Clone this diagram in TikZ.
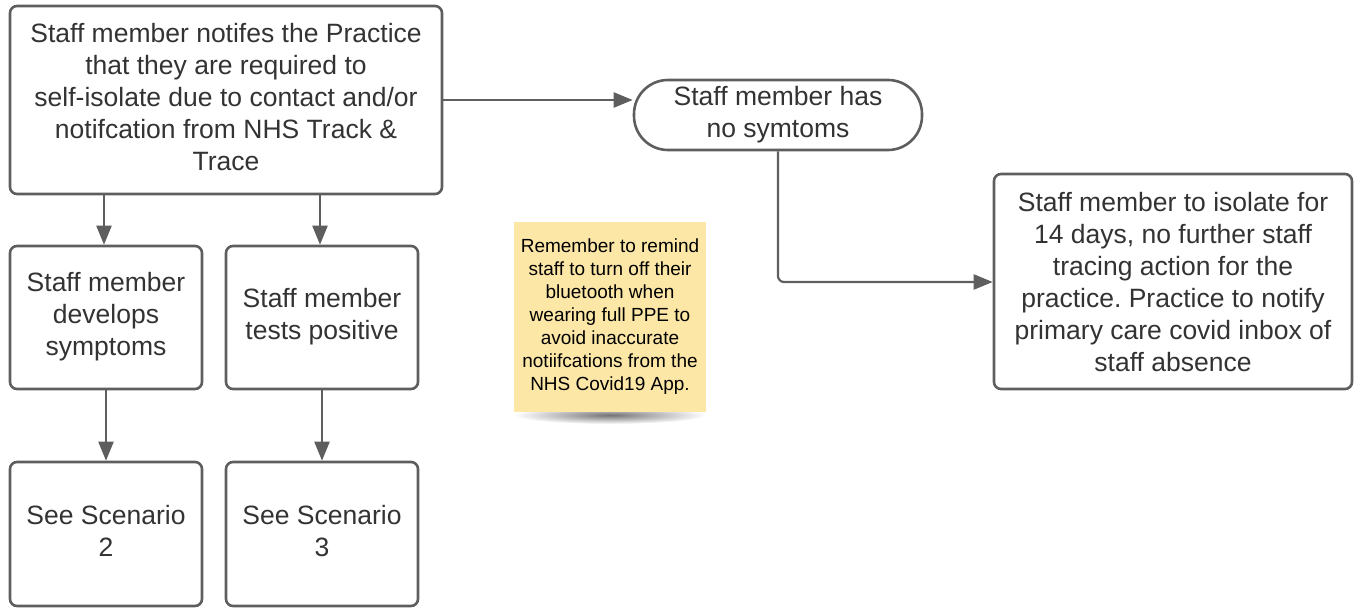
\documentclass[tikz,border=0pt]{standalone}
\usepackage{fontspec}
\setmainfont{Liberation Sans}
\frenchspacing
\usetikzlibrary{arrows.meta,positioning}
\definecolor{edge}{HTML}{5E5E5E}
\definecolor{txt}{HTML}{333333}
\definecolor{sticky}{HTML}{FCE7A7}
\tikzset{
  box/.style={draw=edge, line width=2.6pt, rounded corners=7pt, fill=white, inner sep=0pt,
    text=txt, align=center, font=\fontsize{26.5}{32}\selectfont, text depth=7pt},
  pill/.style={box, rounded corners=34pt},
  note/.style={fill=sticky, inner sep=0pt, text=black, align=center, font=\fontsize{19}{23}\selectfont},
  conn/.style={draw=edge, line width=2.2pt, -{Triangle[length=19pt,width=15pt]}},
}
\begin{document}
\begin{tikzpicture}[x=1pt,y=-1pt]
\useasboundingbox (0,0) rectangle (1354,608);
\node[box, minimum width=432pt, minimum height=188pt] (top) at (226,100)
  {Staff member notifes the Practice\\that they are required to\\self-isolate due to contact and/or\\notifcation from NHS Track \&\\Trace};
\node[box, minimum width=192pt, minimum height=143pt] (dev) at (106,317.5)
  {Staff member\\develops\\symptoms};
\node[box, minimum width=192pt, minimum height=143pt] (pos) at (322,317.5)
  {Staff member\\tests positive};
\node[box, minimum width=192pt, minimum height=144pt] (sc2) at (106,534)
  {See Scenario\\2};
\node[box, minimum width=192pt, minimum height=144pt] (sc3) at (322,534)
  {See Scenario\\3};
\node[pill, minimum width=288pt, minimum height=70pt] (none) at (778,115)
  {Staff member has\\no symtoms};
\node[box, text depth=0pt, minimum width=358pt, minimum height=215pt] (iso) at (1173,281.5)
  {Staff member to isolate for\\14 days, no further staff\\tracing action for the\\practice. Practice to notify\\primary care covid inbox of\\staff absence};
% sticky note shadow
\shade[inner color=black!55, outer color=white] (610,415) ellipse [x radius=96pt, y radius=9pt];
\node[note, minimum width=192pt, minimum height=190pt] (memo) at (610,317)
  {Remember to remind\\staff to turn off their\\bluetooth when\\wearing full PPE to\\avoid inaccurate\\notiifcations from the\\NHS Covid19 App.};
% connectors
\coordinate (t1) at (top.south -| 104,0);
\coordinate (t2) at (top.south -| 320,0);
\draw[conn] (t1) -- (t1 |- dev.north);
\draw[conn] (t2) -- (t2 |- pos.north);
\draw[conn] (dev.south) -- (sc2.north);
\draw[conn] (pos.south) -- (sc3.north);
\draw[conn] (top.east |- 0,100) -- (none.west |- 0,100);
\coordinate (bend) at (778,282);
\draw[conn, rounded corners=6pt] (none.south) -- (bend) -- (iso.west |- bend);
\end{tikzpicture}
\end{document}
